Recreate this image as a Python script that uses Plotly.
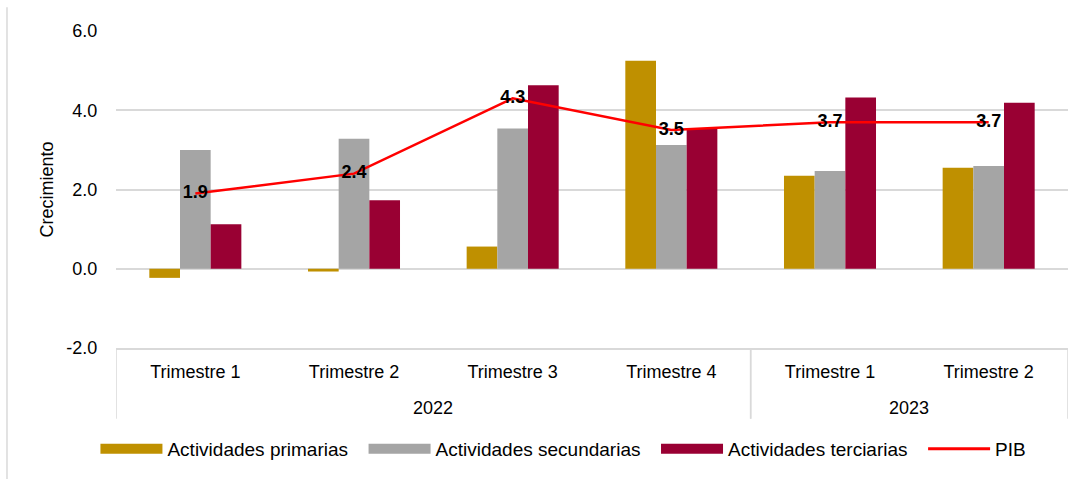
import plotly.graph_objects as go

years = ["2022", "2022", "2022", "2022", "2023", "2023"]
quarters = ["Trimestre 1", "Trimestre 2", "Trimestre 3", "Trimestre 4", "Trimestre 1", "Trimestre 2"]

primarias = [-0.23, -0.07, 0.56, 5.25, 2.35, 2.55]
secundarias = [3.0, 3.28, 3.54, 3.12, 2.47, 2.59]
terciarias = [1.12, 1.73, 4.63, 3.54, 4.32, 4.19]
pib = [1.9, 2.4, 4.3, 3.5, 3.7, 3.7]

y_ticks = [-2.0, 0.0, 2.0, 4.0, 6.0]
y_tick_labels = ["-2.0", "0.0", "2.0", "4.0", "6.0"]

c_prim = "#BF9000"
c_sec = "#A5A5A5"
c_ter = "#990033"
c_pib = "#FF0000"
c_grid = "#D9D9D9"
FONT = "Liberation Sans, Arial, sans-serif"
FS = 18
NB = "\u00a0\u00a0"

xi = list(range(len(quarters)))

fig = go.Figure()
for name, vals, col in [("Actividades primarias", primarias, c_prim),
                        ("Actividades secundarias", secundarias, c_sec),
                        ("Actividades terciarias", terciarias, c_ter)]:
    fig.add_trace(go.Bar(x=xi, y=vals, name=name, marker=dict(color=col, line=dict(width=0)),
                         showlegend=False, hoverinfo="y"))

fig.add_trace(go.Scatter(x=xi, y=pib, name="PIB", mode="lines+text",
                         line=dict(color=c_pib, width=2.5),
                         text=[f"{v:.1f}" for v in pib], textposition="middle center",
                         textfont=dict(family=FONT, size=18, color="#000000", weight="bold"),
                         showlegend=False))

# legend proxies (wide swatches like the original)
for name, col, w in [("Actividades primarias" + NB, c_prim, 12),
                     ("Actividades secundarias" + NB, c_sec, 12),
                     ("Actividades terciarias" + NB, c_ter, 12),
                     ("PIB", c_pib, 3)]:
    fig.add_trace(go.Scatter(x=[None], y=[None], mode="lines", name=name,
                             line=dict(color=col, width=w), showlegend=True))

# year group labels and dividers
annotations = []
shapes = []
groups = []
for i, yv in enumerate(years):
    if not groups or groups[-1][0] != yv:
        groups.append([yv, i, i])
    else:
        groups[-1][2] = i
for yv, a, b in groups:
    annotations.append(dict(x=(a + b) / 2, xref="x", y=-0.19, yref="paper",
                            text=yv, showarrow=False, yanchor="middle",
                            font=dict(family=FONT, size=FS, color="#000000")))
    for edge in (a - 0.5, b + 0.5):
        shapes.append(dict(type="line", xref="x", yref="paper", x0=edge, x1=edge,
                           y0=0, y1=-0.223, line=dict(color=c_grid, width=1.5)))

shapes.append(dict(type="line", xref="paper", yref="paper",
                   x0=-0.1145, x1=-0.1145, y0=1.075, y1=-0.45,
                   line=dict(color=c_grid, width=1.5)))

fig.update_layout(
    width=1084, height=479,
    margin=dict(l=116, r=16, t=31, b=130),
    paper_bgcolor="white", plot_bgcolor="white",
    font=dict(family=FONT, size=FS, color="#000000"),
    barmode="group", bargap=0.42, bargroupgap=0,
    legend=dict(orientation="h", x=0.47, xanchor="center", y=-0.314, yanchor="middle",
                itemwidth=62, font=dict(family=FONT, size=19, color="#000000"),
                traceorder="normal", tracegroupgap=0, itemclick=False),
    yaxis=dict(range=[-2, 6], tickvals=y_ticks, ticktext=y_tick_labels, automargin=False,
               showgrid=True, gridcolor=c_grid, gridwidth=1.5,
               zeroline=True, zerolinecolor=c_grid, zerolinewidth=1.5,
               showline=False, ticks="outside", ticklen=14, tickcolor="rgba(0,0,0,0)",
               tickfont=dict(family=FONT, size=FS, color="#000000"),
               title=dict(text="Crecimiento", standoff=8,
                          font=dict(family=FONT, size=FS, color="#000000"))),
    xaxis=dict(range=[-0.5, len(xi) - 0.5], tickvals=xi, ticktext=quarters, automargin=False,
               showline=True, linecolor=c_grid, linewidth=1.5,
               ticks="outside", ticklen=7, tickcolor="rgba(0,0,0,0)",
               tickfont=dict(family=FONT, size=FS, color="#000000"),
               showgrid=False, zeroline=False),
    annotations=annotations,
    shapes=shapes,
)

fig.write_html("out.html", config={"displayModeBar": False},
               post_script="document.body.style.margin='0';document.body.style.overflow='hidden';")
